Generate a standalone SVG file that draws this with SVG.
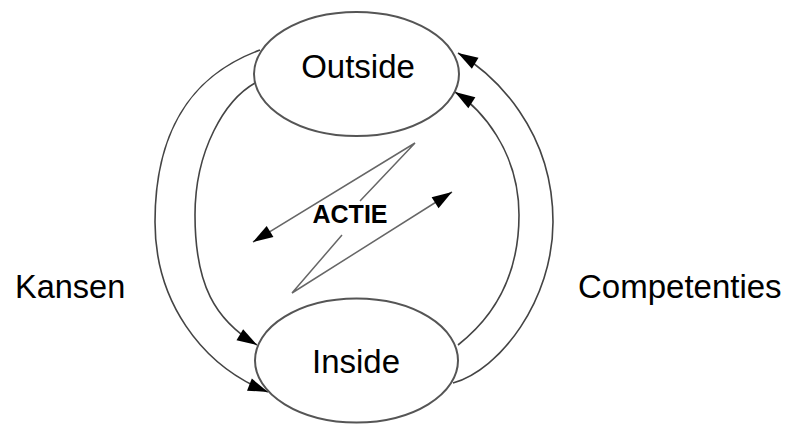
<svg xmlns="http://www.w3.org/2000/svg" width="788" height="424" viewBox="0 0 788 424">
<defs>
<marker id="ah" markerUnits="userSpaceOnUse" markerWidth="22" markerHeight="14" refX="20" refY="6.5" orient="auto" overflow="visible">
<path d="M0,0 L20,6.5 L0,13 z" fill="#000"/>
</marker>
</defs>
<style>
.lbl{font-family:"Liberation Sans",Arial,sans-serif;fill:#000}
.node{fill:#fff;stroke:#555;stroke-width:2}
.con{fill:none;stroke:#444;stroke-width:1.6}
.bolt{fill:none;stroke:#666;stroke-width:1.5}
</style>
<rect width="788" height="424" fill="#fff"/>
<g id="connectors">
<path class="con" d="M260,50 C200,72 155,120 155,222 C155,300 200,365 268,392" marker-end="url(#ah)"/>
<path class="con" d="M255,83 C225,100 195,150 195,215 C195,285 215,320 257,345" marker-end="url(#ah)"/>
<path class="con" d="M453,383 C500,370 553,300 553,222 C553,130 495,75 458,53" marker-end="url(#ah)"/>
<path class="con" d="M458,345 C490,320 519,280 519,215 C519,150 480,108 455,92" marker-end="url(#ah)"/>
<path class="bolt" d="M360,201 L415,143 L253,242" marker-end="url(#ah)"/>
<path class="bolt" d="M342,235 L292,293 L452,192" marker-end="url(#ah)"/>
</g>
<g id="outside">
<ellipse class="node" cx="356.5" cy="74" rx="102.5" ry="62"/>
<text class="lbl" x="358" y="78" font-size="33" text-anchor="middle">Outside</text>
</g>
<g id="inside">
<ellipse class="node" cx="356.5" cy="360.5" rx="101.5" ry="62"/>
<text class="lbl" x="356" y="373" font-size="33" text-anchor="middle">Inside</text>
</g>
<g id="actie">
<text class="lbl" x="350" y="223" font-size="25" font-weight="bold" text-anchor="middle">ACTIE</text>
</g>
<g id="kansen">
<text class="lbl" x="15" y="298" font-size="32.5">Kansen</text>
</g>
<g id="competenties">
<text class="lbl" x="578" y="298" font-size="33">Competenties</text>
</g>
</svg>
